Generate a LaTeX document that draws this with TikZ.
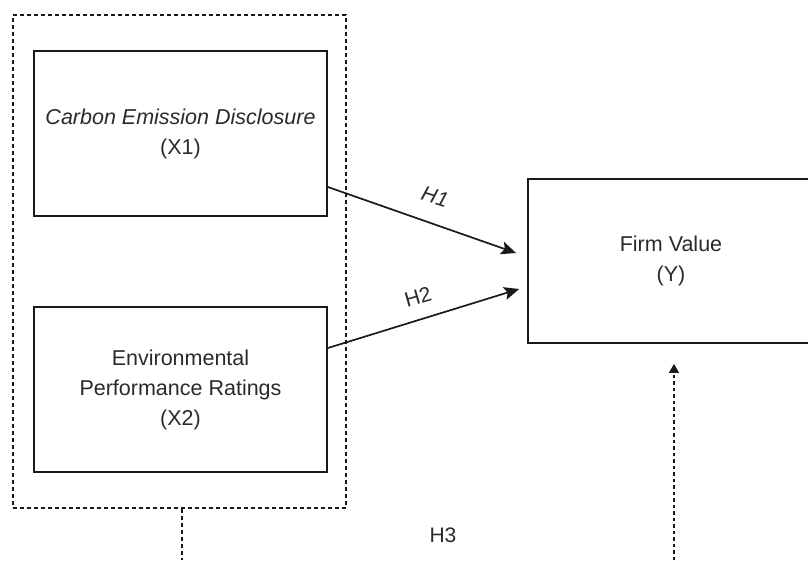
\documentclass[tikz,border=0pt]{standalone}
\usepackage{fontspec}
\setmainfont{Liberation Sans}
\usetikzlibrary{arrows.meta,calc}
\definecolor{txt}{HTML}{2A2A2A}
\definecolor{ln}{HTML}{1A1A1A}
\tikzset{
  varbox/.style={draw=ln, line width=1.8pt, rectangle, align=center, text=txt,
    font=\fontsize{21.5}{30}\selectfont, inner sep=0pt},
  groupbox/.style={draw=ln, line width=1.3pt, dash pattern=on 4pt off 3pt, rectangle, inner sep=0pt},
  hyparrow/.style={draw=ln, line width=1.7pt, -{Stealth[length=15pt,width=13pt,inset=3pt]}},
  dasharrow/.style={draw=ln, line width=1.4pt, dash pattern=on 3.5pt off 3pt, -{Triangle[length=9pt,width=10pt]}},
  dashline/.style={draw=ln, line width=1.4pt, dash pattern=on 4pt off 3pt},
  hlabel/.style={text=txt, font=\fontsize{21}{25}\selectfont, inner sep=0pt}
}
\begin{document}
\begin{tikzpicture}[x=1pt,y=-1pt]
\useasboundingbox (0,0) rectangle (808,560);
\node[groupbox, minimum width=333pt, minimum height=493pt] (grp) at (179.5,261.5) {};
\node[varbox, minimum width=293pt, minimum height=165pt] (x1) at (180.5,133.5)
  {\textit{Carbon Emission Disclosure}\\(X1)};
\node[varbox, minimum width=293pt, minimum height=165pt] (x2) at (180.5,389.5)
  {Environmental\\Performance Ratings\\(X2)};
\node[varbox, minimum width=286pt, minimum height=164pt] (yv) at (671,261)
  {Firm Value\\(Y)};
\draw[hyparrow] ($(x1.east)+(0,53.5)$) -- ($(yv.west)+(-11,-8)$);
\draw[hyparrow] ($(x2.east)+(0,-41.5)$) -- ($(yv.west)+(-8,28)$);
\node[hlabel, rotate=-17] (h1) at (435,197) {\textit{H1}};
\node[hlabel, rotate=16] (h2) at (418,297) {H2};
\node[hlabel] (h3) at (443,535) {H3};
\coordinate (downend) at (182,560);
\coordinate (upstart) at (674,560);
\draw[dashline] ($(grp.south)+(2.5,0)$) -- (downend);
\draw[dasharrow] (upstart) -- ($(yv.south)+(3,20)$);
\end{tikzpicture}
\end{document}
